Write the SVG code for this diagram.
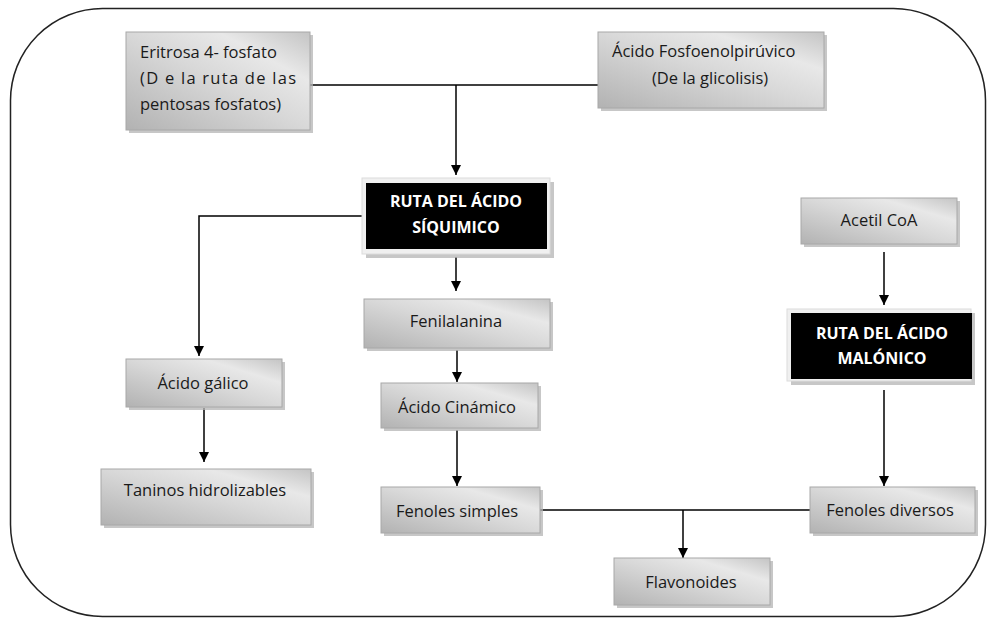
<svg xmlns="http://www.w3.org/2000/svg" width="988" height="619" viewBox="0 0 988 619">
<defs>
<linearGradient id="g" x1="0" y1="1" x2="1" y2="0">
<stop offset="0" stop-color="#b2b2b2"/>
<stop offset="0.5" stop-color="#d8d8d8"/>
<stop offset="0.75" stop-color="#e8e8e8"/>
<stop offset="1" stop-color="#c4c4c4"/>
</linearGradient>
<marker id="ah" markerUnits="userSpaceOnUse" markerWidth="10" markerHeight="10" viewBox="0 0 10 10" refX="10" refY="5" orient="auto">
<path d="M0,0 L10,5 L0,10 Z" fill="#000"/>
</marker>
</defs>
<style>
.box{fill:url(#g);stroke:#a8a8a8;stroke-width:1}
.sh{fill:#b4b4b4;opacity:0.75}
.blk{fill:#000}
.frm{fill:#f0f0f0;stroke:#dcdcdc;stroke-width:1}
.t{font-family:"Open Sans","Liberation Sans",sans-serif;font-size:16.5px;fill:#1a1a1a}
.c{text-anchor:middle}
.w{font-family:"Open Sans","Liberation Sans",sans-serif;font-size:16px;font-weight:bold;fill:#fff;text-anchor:middle}
.ln{fill:none;stroke:#000;stroke-width:1.5}
.ar{fill:none;stroke:#000;stroke-width:1.5;marker-end:url(#ah)}
</style>
<rect x="10.5" y="8.5" width="975" height="608" rx="92" ry="92" fill="#fff" stroke="#222" stroke-width="1.5"/>

<g id="connectors">
<path class="ln" d="M310,85 H598"/>
<path class="ar" d="M456,85 V175"/>
<path class="ln" d="M366,216 H199 V300"/>
<path class="ar" d="M199,300 V356"/>
<path class="ar" d="M204,408 V462"/>
<path class="ar" d="M456,257 V291"/>
<path class="ar" d="M457,350 V382"/>
<path class="ar" d="M457,430 V486"/>
<path class="ln" d="M540,510 H810"/>
<path class="ar" d="M683,510 V558"/>
<path class="ar" d="M884,252 V305"/>
<path class="ar" d="M884,390 V486"/>
</g>

<g id="eritrosa">
<rect class="sh" x="129" y="35" width="184" height="98"/>
<rect class="box" x="126" y="32" width="184" height="98"/>
<text class="t" x="140" y="58">Eritrosa 4- fosfato</text>
<text class="t" x="140" y="84" textLength="156" lengthAdjust="spacing">(D e la ruta de las</text>
<text class="t" x="140" y="110">pentosas fosfatos)</text>
</g>

<g id="fosfoenol">
<rect class="sh" x="601" y="35" width="226" height="76"/>
<rect class="box" x="598" y="32" width="226" height="76"/>
<text class="t" x="612" y="57">Ácido Fosfoenolpirúvico</text>
<text class="t" x="652" y="84">(De la glicolisis)</text>
</g>

<g id="siquimico">
<rect class="sh" x="366" y="182" width="188" height="76"/>
<rect class="frm" x="362" y="178" width="188" height="76"/>
<rect class="blk" x="366" y="183" width="181" height="66"/>
<text class="w" x="456" y="207">RUTA DEL ÁCIDO</text>
<text class="w" x="456" y="233">SÍQUIMICO</text>
</g>

<g id="acetil">
<rect class="sh" x="804" y="201" width="156" height="46"/>
<rect class="box" x="801" y="198" width="156" height="46"/>
<text class="t c" x="879" y="226">Acetil CoA</text>
</g>

<g id="malonico">
<rect class="sh" x="791" y="313" width="184" height="72"/>
<rect class="frm" x="787" y="309" width="184" height="72"/>
<rect class="blk" x="791" y="313" width="181" height="66"/>
<text class="w" x="882" y="339">RUTA DEL ÁCIDO</text>
<text class="w" x="882" y="364">MALÓNICO</text>
</g>

<g id="fenilalanina">
<rect class="sh" x="367" y="302" width="186" height="49"/>
<rect class="box" x="364" y="299" width="186" height="49"/>
<text class="t c" x="456" y="327">Fenilalanina</text>
</g>

<g id="acido-galico">
<rect class="sh" x="129" y="362" width="156" height="48"/>
<rect class="box" x="126" y="359" width="156" height="48"/>
<text class="t c" x="203" y="389">Ácido gálico</text>
</g>

<g id="acido-cinamico">
<rect class="sh" x="384" y="386" width="157" height="45"/>
<rect class="box" x="381" y="383" width="157" height="45"/>
<text class="t c" x="457" y="413">Ácido Cinámico</text>
</g>

<g id="taninos">
<rect class="sh" x="104" y="472" width="210" height="56"/>
<rect class="box" x="101" y="469" width="210" height="56"/>
<text class="t c" x="205" y="496">Taninos hidrolizables</text>
</g>

<g id="fenoles-simples">
<rect class="sh" x="384" y="490" width="159" height="46"/>
<rect class="box" x="381" y="487" width="159" height="46"/>
<text class="t c" x="457" y="517">Fenoles simples</text>
</g>

<g id="fenoles-diversos">
<rect class="sh" x="813" y="490" width="165" height="46"/>
<rect class="box" x="810" y="487" width="165" height="46"/>
<text class="t c" x="890" y="516">Fenoles diversos</text>
</g>

<g id="flavonoides">
<rect class="sh" x="617" y="561" width="156" height="47"/>
<rect class="box" x="614" y="558" width="156" height="47"/>
<text class="t c" x="691" y="588">Flavonoides</text>
</g>
</svg>
